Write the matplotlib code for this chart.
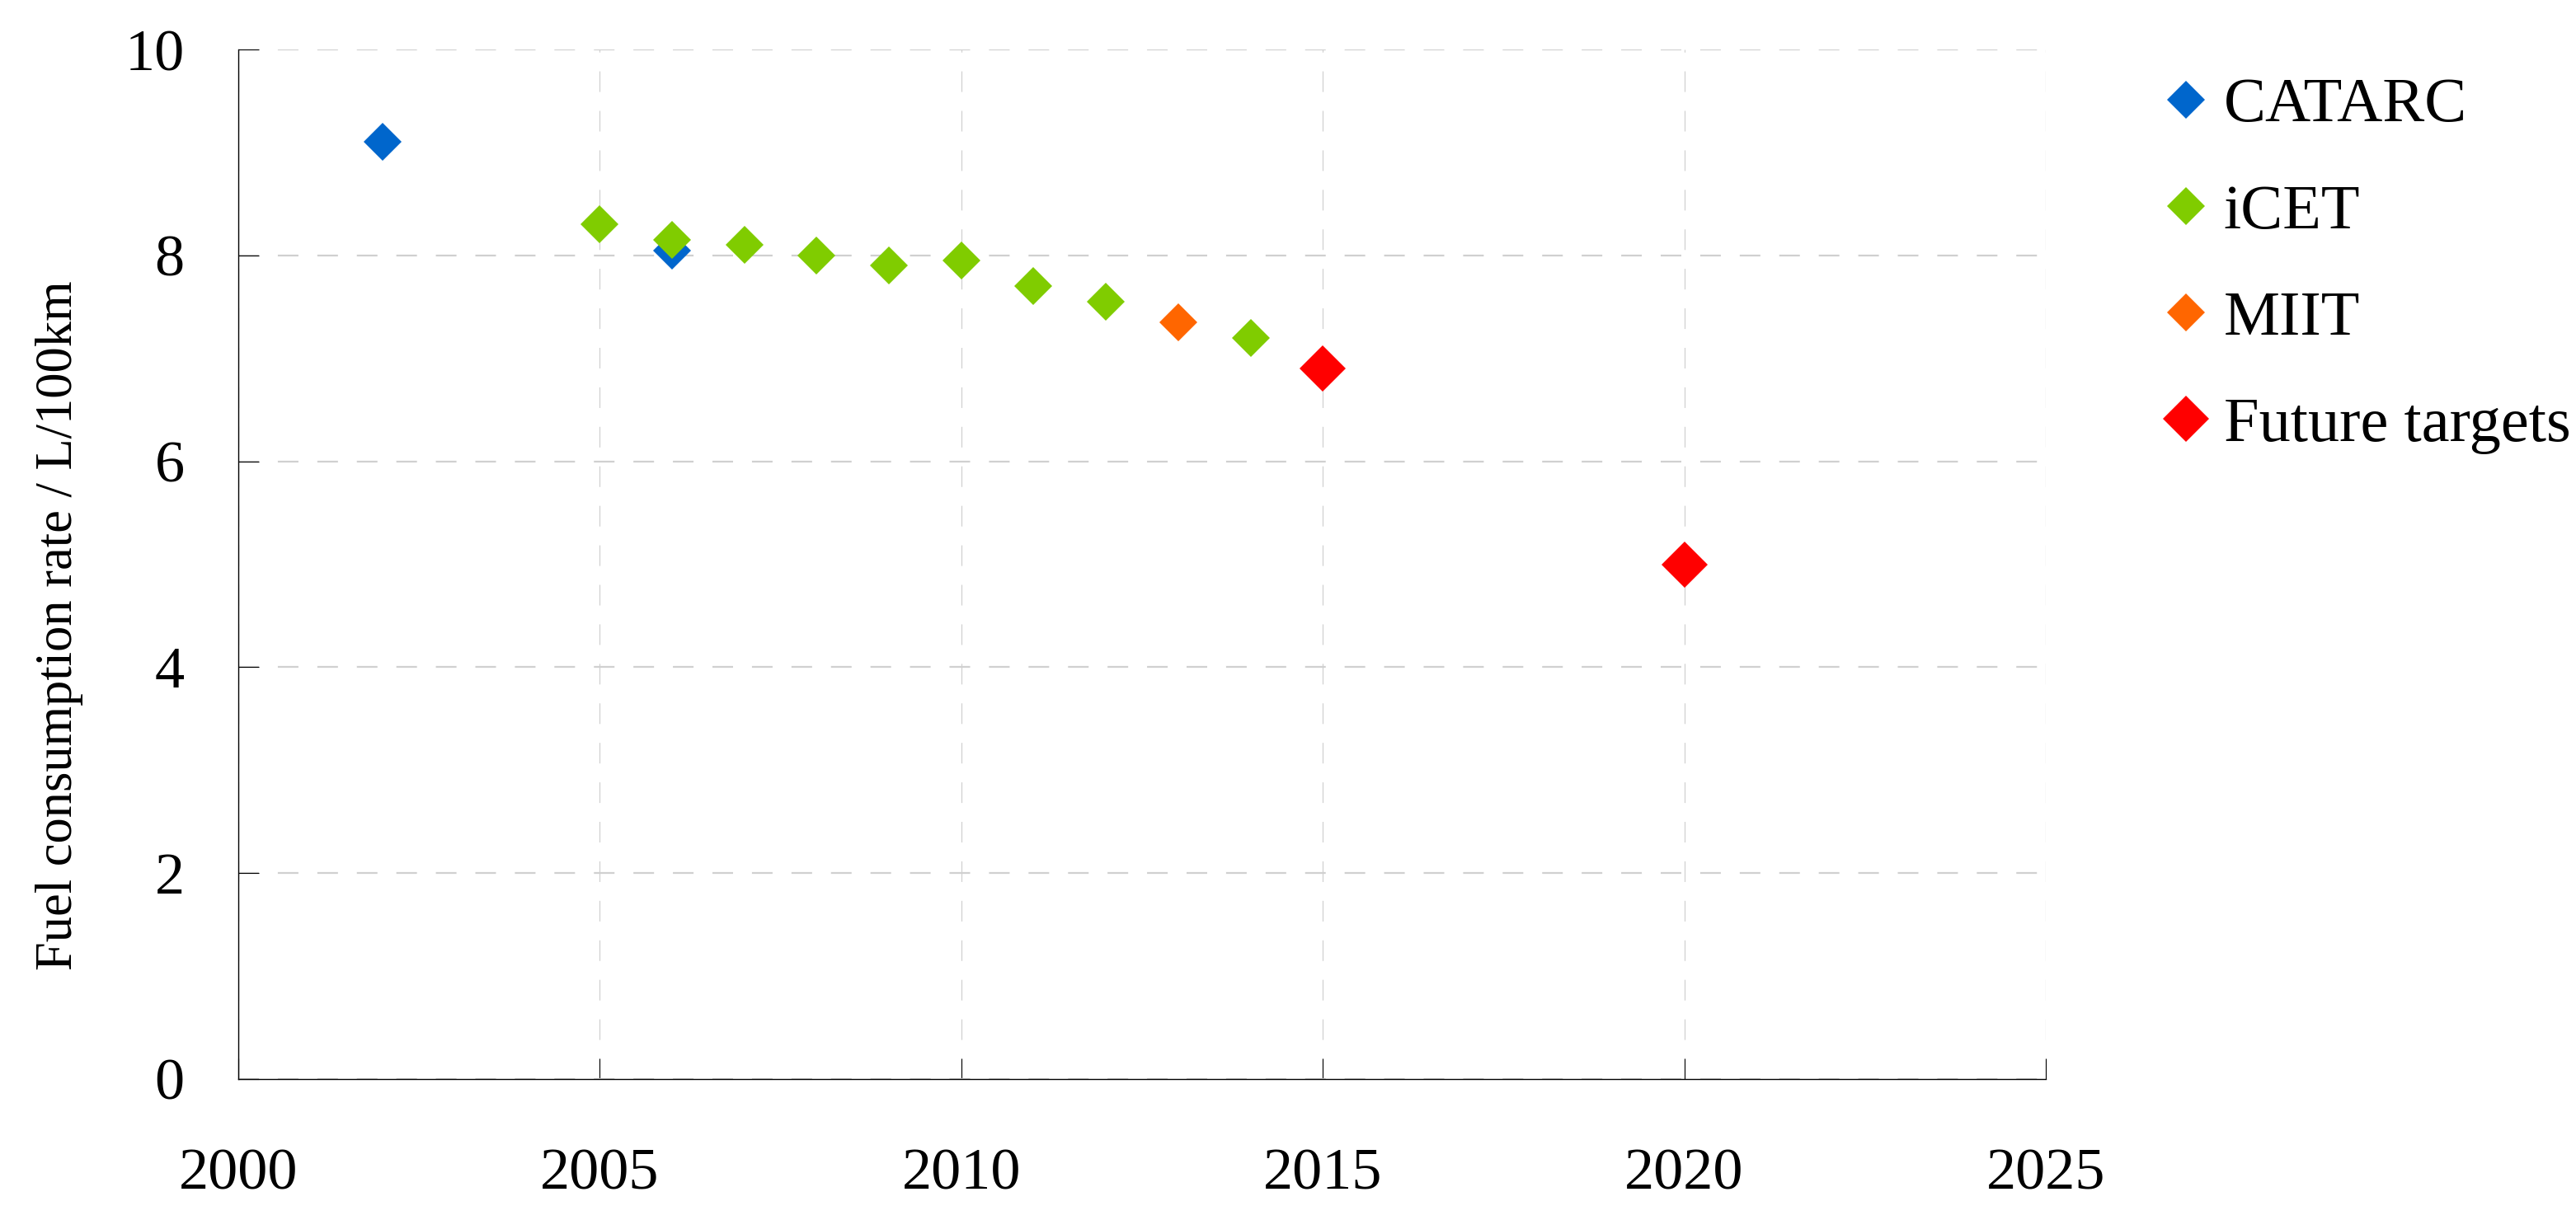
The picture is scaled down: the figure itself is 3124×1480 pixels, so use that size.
"""
Passenger car fuel consumption rate by source (CATARC / iCET / MIIT / targets).
"""

import matplotlib
matplotlib.use("Agg")
import matplotlib.pyplot as plt

plt.rcParams["font.family"] = ["Liberation Serif", "DejaVu Serif"]
plt.rcParams["lines.scale_dashes"] = False

# --- data ---
catarc_years = [2002, 2006]
catarc_rate = [9.1, 8.05]

icet_years = [2005, 2006, 2007, 2008, 2009, 2010, 2011, 2012, 2014]
icet_rate = [8.3, 8.15, 8.1, 8.0, 7.9, 7.95, 7.7, 7.55, 7.2]

miit_years = [2013]
miit_rate = [7.35]

target_years = [2015, 2020]
target_rate = [6.9, 5.0]

x_ticks = [2000, 2005, 2010, 2015, 2020, 2025]
y_ticks = [0, 2, 4, 6, 8, 10]

series = [
    ("CATARC", catarc_years, catarc_rate, "#0066CC", 23),
    ("iCET", icet_years, icet_rate, "#80CC00", 23),
    ("MIIT", miit_years, miit_rate, "#FF6600", 23),
    ("Future targets", target_years, target_rate, "#FF0000", 29),
]

fig = plt.figure(figsize=(31.24, 14.8), dpi=100)
ax = fig.add_axes([289 / 3124, 171 / 1480, (2481 - 289) / 3124, (1309 - 60) / 1480])

for label, xs, ys, color, ms in series:
    ax.plot(xs, ys, linestyle="none", marker="D", ms=ms, color=color,
            markeredgewidth=0, label=label, zorder=3)

ax.set_xlim(2000, 2025)
ax.set_ylim(0, 10)
ax.set_xticks(x_ticks)
ax.set_yticks(y_ticks)

# dashed light grid, top/right edges are only grid lines
ax.grid(axis="y", color="#d0d0d0", linewidth=1.6, linestyle=(0, (18, 16.5)), zorder=0)
ax.grid(axis="x", color="#d0d0d0", linewidth=0.9, linestyle=(0, (18, 16.5)), zorder=0)
ax.set_axisbelow(True)
for side in ("top", "right"):
    ax.spines[side].set_visible(False)
for side in ("left", "bottom"):
    ax.spines[side].set_linewidth(1.0)
    ax.spines[side].set_color("black")

ax.tick_params(axis="both", direction="in", length=18, width=0.8, labelsize=52)
ax.tick_params(axis="y", pad=47)
ax.tick_params(axis="x", pad=60)

fig.text(72 / 3124, 1 - 759 / 1480, "Fuel consumption rate / L/100km",
         rotation=90, ha="center", va="center", fontsize=45)

ax.legend(loc="upper left", bbox_to_anchor=(2628 / 3124, 1 - 94 / 1480),
          bbox_transform=fig.transFigure, frameon=False, fontsize=55,
          numpoints=1, handlelength=0.6, handletextpad=0.3, labelspacing=0.78,
          borderpad=0, borderaxespad=0)

fig.savefig("out.png", dpi=100)
